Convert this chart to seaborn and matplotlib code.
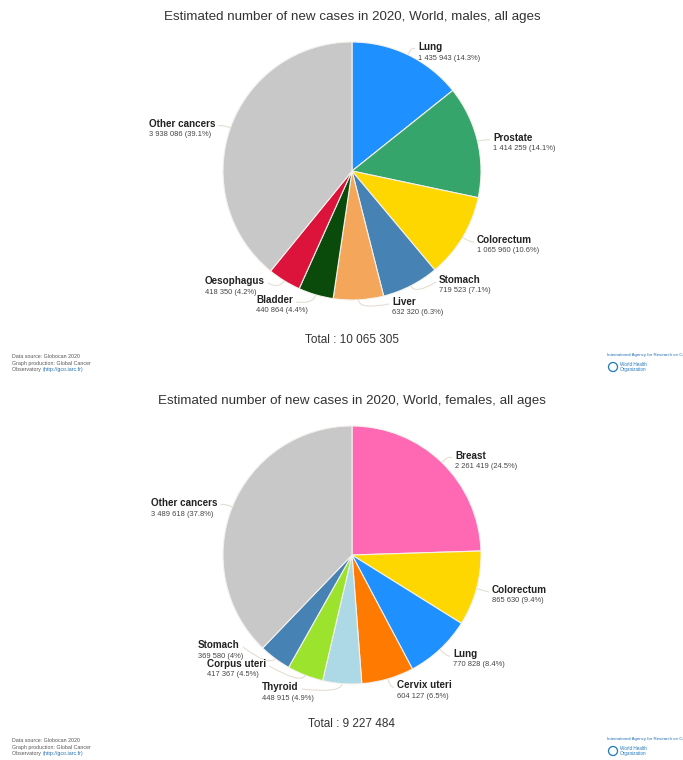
import matplotlib
matplotlib.use("Agg")
import matplotlib.pyplot as plt
from matplotlib.path import Path
from matplotlib.patches import PathPatch, Circle
import numpy as np
import seaborn as sns

# ---- data -------------------------------------------------------------
male_sites = ["Lung", "Prostate", "Colorectum", "Stomach", "Liver",
              "Bladder", "Oesophagus", "Other cancers"]
male_cases = [1435943, 1414259, 1065960, 719523, 632320,
              440864, 418350, 3938086]
male_colors = ["#1E90FF", "#35A56B", "#FFD700", "#4682B4", "#F4A65A",
               "#0A4A0A", "#DC143C", "#C8C8C8"]

female_sites = ["Breast", "Colorectum", "Lung", "Cervix uteri", "Thyroid",
                "Corpus uteri", "Stomach", "Other cancers"]
female_cases = [2261419, 865630, 770828, 604127, 448915,
                417367, 369580, 3489618]
female_colors = ["#FF69B4", "#FFD700", "#1E90FF", "#FF7A00", "#ADD8E6",
                 "#9BE32D", "#4682B4", "#C8C8C8"]

titles = ["Estimated number of new cases in 2020, World, males, all ages",
          "Estimated number of new cases in 2020, World, females, all ages"]

# label placement (pixel layout, y measured from the top of the figure)
male_label_xy = [(418, 47), (493, 138), (477, 240), (439, 280), (392, 302),
                 (256, 300), (205, 281), (149, 124)]
female_label_xy = [(455, 456), (492, 590), (453, 654), (397, 685), (262, 687),
                   (207, 664), (198, 645), (151, 503)]

W, H = 683, 760
FONT = "Liberation Sans"

sns.set_theme(style="white")
plt.rcParams["font.family"] = [FONT, "DejaVu Sans"]

fig = plt.figure(figsize=(W / 100, H / 100), dpi=100)
ax = fig.add_axes([0, 0, 1, 1])


def Y(py):
    return H - py


def fmt_int(v):
    return f"{v:,}".replace(",", " ")


def fmt_pct(p):
    s = f"{p:.1f}"
    return s[:-2] if s.endswith(".0") else s


panels = [
    (male_sites, male_cases, male_colors, male_label_xy, 0),
    (female_sites, female_cases, female_colors, female_label_xy, 384),
]

pending = []
for (sites, cases, colors, label_xy, dy), title in zip(panels, titles):
    cx, cy, r = 352, Y(171 + dy), 129
    total = sum(cases)
    wedges, _ = ax.pie(cases, colors=colors, startangle=90, counterclock=False,
                       center=(cx, cy), radius=r, frame=True,
                       wedgeprops=dict(edgecolor="#F4F1EC", linewidth=0.8))
    ax.text(352, Y(17 + dy), title, ha="center", va="center",
            fontsize=9.6, color="#333333")
    ax.text(352, Y(340 + dy), f"Total : {fmt_int(total)}", ha="center",
            va="center", fontsize=8.5, color="#333333")

    for w, site, v, (lx, ly) in zip(wedges, sites, cases, label_xy):
        name = ax.text(lx, Y(ly), site, ha="left", va="center", fontsize=7.1,
                       fontweight="bold", color="#222222")
        ax.text(lx, Y(ly + 11), f"{fmt_int(v)} ({fmt_pct(100 * v / total)}%)",
                ha="left", va="center", fontsize=5.4, color="#444444")
        mid = np.deg2rad((w.theta1 + w.theta2) / 2)
        pending.append((name, cx, cy, r, mid, lx, ly))

    # footer: data source and producing agencies
    fy = 356 + dy
    ax.text(12, Y(fy), "Data source: Globocan 2020", fontsize=3.8,
            color="#555555", va="center")
    ax.text(12, Y(fy + 7), "Graph production: Global Cancer", fontsize=3.8,
            color="#555555", va="center")
    obs = ax.text(12, Y(fy + 14), "Observatory ", fontsize=3.8,
                  color="#555555", va="center")
    pending.append(("link", obs, fy + 14))
    ax.text(607, Y(fy - 1), "International Agency for Research on Cancer",
            fontsize=3.2, color="#1F6FB5", va="center")
    ax.add_patch(Circle((613, Y(fy + 11)), 4.5, facecolor="none",
                        edgecolor="#1F78C1", linewidth=0.9))
    ax.text(620, Y(fy + 9), "World Health", fontsize=3.3, color="#1F78C1",
            va="center")
    ax.text(620, Y(fy + 14), "Organization", fontsize=3.3, color="#1F78C1",
            va="center")

ax.set_xlim(0, W)
ax.set_ylim(0, H)
ax.set_aspect("auto")
ax.axis("off")

# connectors need the rendered label widths
fig.canvas.draw()
renderer = fig.canvas.get_renderer()
inv = ax.transData.inverted()
for item in pending:
    if item[0] == "link":
        _, obs, py = item
        bb = obs.get_window_extent(renderer).transformed(inv)
        ax.text(bb.x1, Y(py), "(http://gco.iarc.fr)", fontsize=3.8,
                color="#1F6FB5", va="center")
        continue
    name, cx, cy, r, mid, lx, ly = item
    ex, ey = cx + r * np.cos(mid), cy + r * np.sin(mid)
    bx, by = cx + (r + 10) * np.cos(mid), cy + (r + 10) * np.sin(mid)
    if np.cos(mid) >= 0:
        tx = lx - 3
    else:
        tx = name.get_window_extent(renderer).transformed(inv).x1 + 3
    ty = Y(ly) - 2
    path = Path([(ex, ey), (bx, by), (tx, ty)],
                [Path.MOVETO, Path.CURVE3, Path.CURVE3])
    ax.add_patch(PathPatch(path, facecolor="none", edgecolor="#E4DED4",
                           linewidth=0.8))

fig.savefig("out.png", dpi=100, facecolor="white")
